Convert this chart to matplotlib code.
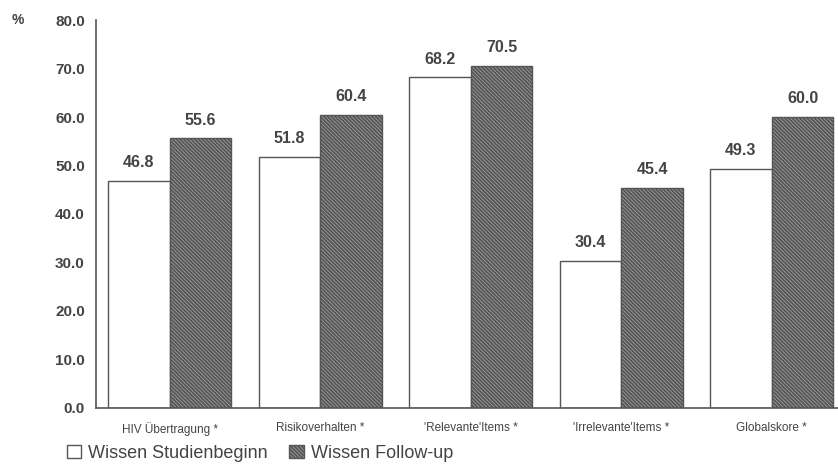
import numpy as np
import matplotlib
matplotlib.use("Agg")
import matplotlib.pyplot as plt
from matplotlib.patches import Patch

plt.rcParams['font.family'] = ['Liberation Sans', 'DejaVu Sans']
plt.rcParams['hatch.linewidth'] = 1.3
plt.rcParams['hatch.color'] = '#3c3c3c'

categories = ["HIV Übertragung *", "Risikoverhalten *", "'Relevante'Items *",
              "'Irrelevante'Items *", "Globalskore *"]
studienbeginn = [46.8, 51.8, 68.2, 30.4, 49.3]
follow_up = [55.6, 60.4, 70.5, 45.4, 60.0]
yticks = [0, 10, 20, 30, 40, 50, 60, 70, 80]

edge = '#555555'
txt = '#444444'
hatch = '\\' * 9
fill = '#a0a0a0'

fig = plt.figure(figsize=(8.38, 4.71), dpi=100)
ax = fig.add_axes([0.1146, 0.1338, 0.8854, 0.8237])

x = np.arange(len(categories))
w = 0.41

b1 = ax.bar(x - w / 2, studienbeginn, w, color='white', edgecolor=edge, linewidth=1.0)
b2 = ax.bar(x + w / 2, follow_up, w, color=fill, edgecolor=edge, linewidth=1.0,
            hatch=hatch)

# value labels above each bar
for rect, v in list(zip(b1, studienbeginn)) + list(zip(b2, follow_up)):
    ax.text(rect.get_x() + rect.get_width() / 2, v + 2.2, f"{v:.1f}",
            ha='center', va='bottom', fontsize=11.5, fontweight='bold', color=txt)

ax.set_xlim(-0.49, 4.44)
ax.set_ylim(0, 80)
ax.set_yticks(yticks)
ax.set_yticklabels([f"{t:.1f}" for t in yticks], fontsize=11, fontweight='bold', color=txt)
ax.set_xticks(x)
ax.set_xticklabels(categories, fontsize=8.5, color=txt)
ax.tick_params(axis='both', length=0)
ax.tick_params(axis='y', pad=8)
ax.tick_params(axis='x', pad=10)

for s in ['top', 'right']:
    ax.spines[s].set_visible(False)
for s in ['left', 'bottom']:
    ax.spines[s].set_color(edge)
    ax.spines[s].set_linewidth(1.2)

fig.text(0.014, 0.957, "%", fontsize=10, fontweight='bold', color=txt, va='center')

handles = [Patch(facecolor='white', edgecolor=edge, label='Wissen Studienbeginn'),
           Patch(facecolor=fill, edgecolor=edge, hatch=hatch, label='Wissen Follow-up')]
fig.legend(handles=handles, loc='center left', bbox_to_anchor=(0.06, 0.038), ncol=2,
           frameon=False, fontsize=13, handlelength=0.8, handleheight=0.8,
           handletextpad=0.4, columnspacing=1.2, labelcolor=txt)

fig.savefig("out.png", dpi=100)
